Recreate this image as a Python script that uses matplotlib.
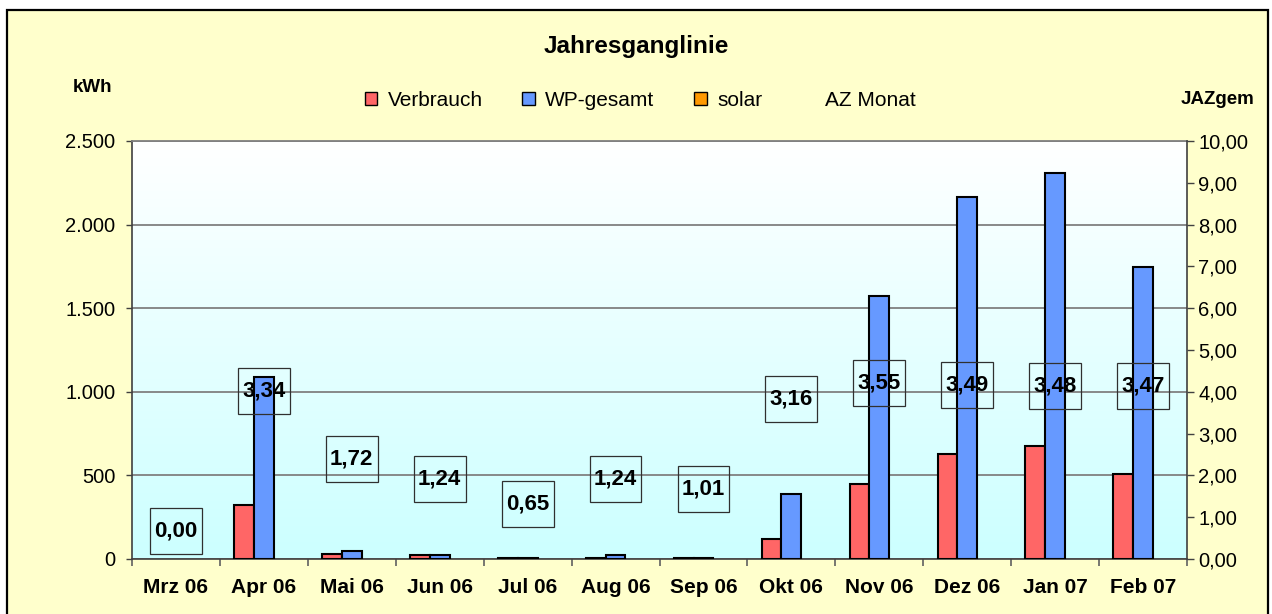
import numpy as np
import matplotlib.pyplot as plt
from matplotlib.patches import Patch, Rectangle
from matplotlib.lines import Line2D
from matplotlib.ticker import FuncFormatter, MultipleLocator

plt.rcParams['font.family'] = ['Liberation Sans', 'DejaVu Sans']

# monthly values
months = ["Mrz 06", "Apr 06", "Mai 06", "Jun 06", "Jul 06", "Aug 06",
          "Sep 06", "Okt 06", "Nov 06", "Dez 06", "Jan 07", "Feb 07"]
verbrauch = [0, 323, 30, 25, 6, 6, 6, 121, 447, 626, 674, 507]
wp_gesamt = [0, 1090, 50, 25, 6, 25, 6, 387, 1571, 2165, 2310, 1748]
solar = [0, 0, 0, 0, 0, 0, 0, 0, 0, 0, 0, 0]
az_monat = [0.00, 3.34, 1.72, 1.24, 0.65, 1.24, 1.01, 3.16, 3.55, 3.49, 3.48, 3.47]

c_red = "#FF6666"
c_blue = "#6699FF"
c_orange = "#FF9900"
c_bg = "#FFFFCC"

fig = plt.figure(figsize=(12.72, 6.14), dpi=100, facecolor="white")
# outer chart frame (yellow area with black border)
fig.patches.append(Rectangle((7 / 1272, -0.05), 1261 / 1272, 1.05 - 10 / 614,
                             transform=fig.transFigure, facecolor=c_bg,
                             edgecolor="black", linewidth=1.6, zorder=0))

ax = fig.add_axes([132 / 1272, 1 - 559 / 614, 1055 / 1272, 418 / 614])
ax.set_facecolor("none")
ax.set_zorder(1)

# gradient in plot area: white at top, light cyan at bottom
grad = np.linspace(0, 1, 256).reshape(-1, 1)
top = np.array([1.0, 1.0, 1.0])
bot = np.array([0.8, 1.0, 1.0])
img = top * (1 - grad[..., None]) + bot * grad[..., None]
ax.imshow(img, extent=[0, 1, 0, 1], transform=ax.transAxes, aspect="auto",
          zorder=0)


def edge_widths(vals):
    # zero-height bars show no outline in the original
    return [1.5 if v > 0 else 0 for v in vals]


x = np.arange(len(months))
w = 0.225
ax.bar(x - w, verbrauch, w, color=c_red, edgecolor="black",
       linewidth=edge_widths(verbrauch), zorder=3)
ax.bar(x, wp_gesamt, w, color=c_blue, edgecolor="black",
       linewidth=edge_widths(wp_gesamt), zorder=3)
ax.bar(x + w, solar, w, color=c_orange, edgecolor="black",
       linewidth=edge_widths(solar), zorder=3)

ax.set_xlim(-0.5, len(months) - 0.5)
ax.set_ylim(0, 2500)
ax.yaxis.set_major_locator(MultipleLocator(500))
ax.yaxis.set_major_formatter(FuncFormatter(lambda v, p: f"{int(v):,}".replace(",", ".")))
ax.grid(axis="y", color="#808080", linewidth=1.3, zorder=1)
ax.set_axisbelow(True)
ax.tick_params(axis="y", direction="out", length=4, width=1, color="#404040",
               labelsize=14.5, pad=8)

ax.set_xticks(np.arange(-0.5, len(months)), minor=False)
ax.set_xticklabels([])
ax.set_xticks(x, minor=True)
ax.set_xticklabels(months, minor=True, fontweight="bold", fontsize=15)
ax.tick_params(axis="x", which="major", direction="out", length=5, width=1.2,
               color="#606060")
ax.tick_params(axis="x", which="minor", length=0, pad=14)

for s in ["left", "bottom"]:
    ax.spines[s].set_color("#404040")
    ax.spines[s].set_linewidth(1.2)
ax.spines["top"].set_color("#808080")
ax.spines["top"].set_linewidth(1.3)
ax.spines["right"].set_visible(False)

ax2 = ax.twinx()
ax2.set_ylim(0, 10)
ax2.yaxis.set_major_locator(MultipleLocator(1))
ax2.yaxis.set_major_formatter(FuncFormatter(lambda v, p: f"{v:.2f}".replace(".", ",")))
ax2.tick_params(axis="y", direction="out", length=5, width=1, color="#404040",
                labelsize=14.5, pad=3)
for s in ["left", "top", "bottom"]:
    ax2.spines[s].set_visible(False)
ax2.spines["right"].set_color("#404040")
ax2.spines["right"].set_linewidth(1.2)

# AZ Monat labels, boxed, sitting above the value
box_w, box_h, off = 0.59, 1.10, 0.67
for i, v in enumerate(az_monat):
    cy = v + off
    ax2.add_patch(Rectangle((i - box_w / 2, cy - box_h / 2), box_w, box_h,
                            facecolor="none", edgecolor="#303030",
                            linewidth=0.9, zorder=5))
    ax2.text(i, cy, f"{v:.2f}".replace(".", ","), ha="center", va="center",
             fontsize=16, fontweight="bold", zorder=6)

fig.text(636 / 1272, 1 - 46 / 614, "Jahresganglinie", ha="center", va="center",
         fontsize=17.5, fontweight="bold")
fig.text(92 / 1272, 1 - 87 / 614, "kWh", ha="center", va="center",
         fontsize=13.5, fontweight="bold")
fig.text(1218 / 1272, 1 - 100 / 614, "JAZgem", ha="center", va="center",
         fontsize=13.5, fontweight="bold")

handles = [Patch(facecolor=c_red, edgecolor="black"),
           Patch(facecolor=c_blue, edgecolor="black"),
           Patch(facecolor=c_orange, edgecolor="black"),
           Line2D([], [], linestyle="none")]
fig.legend(handles, ["Verbrauch", "WP-gesamt", "solar", "AZ Monat"],
           loc="center", bbox_to_anchor=(640 / 1272, 1 - 100 / 614), ncol=4,
           frameon=False, fontsize=15, handlelength=0.6, handleheight=0.6,
           handletextpad=0.5, columnspacing=1.9)

fig.savefig("out.png", dpi=100)
